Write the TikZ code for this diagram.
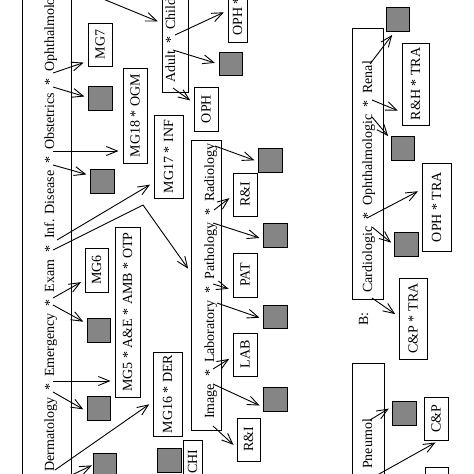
\documentclass[tikz,border=0pt]{standalone}
\usepackage{fontspec}
\usepackage{graphicx}
\setmainfont{Liberation Serif}
\usetikzlibrary{arrows.meta,positioning,calc}

\begin{document}
\begin{tikzpicture}[x=1pt, y=-1pt,
            every node/.style={font=\fontsize{14}{16}\selectfont},
            lbl/.style={draw, line width=1pt, inner sep=0pt, minimum width=24pt, minimum height=43pt},
            sq/.style={draw, line width=1pt, fill=black!48, minimum size=23.5pt, inner sep=0pt},
            grp/.style={draw, line width=1pt, inner sep=0pt},
            cat/.style={rotate=90, anchor=base west, inner sep=0pt},
            arr/.style={draw, line width=0.9pt, shorten >=4pt, -{Straight Barb[length=11pt,width=9pt]}}]
        \useasboundingbox (0,0) rectangle (474,474);
        \clip (0,0) rectangle (474,474);

        % group boxes
        \node[grp, minimum width=49pt, minimum height=494pt] (sympt) at (46.5,237) {};
        \node[grp, minimum width=26pt, minimum height=102pt] (kids) at (175,41) {};
        \node[grp, minimum width=30pt, minimum height=290pt] (image) at (206,285) {};
        \node[grp, minimum width=31pt, minimum height=271pt] (organ) at (367.5,163.5) {};
        \node[grp, minimum width=32pt, minimum height=121pt] (pneu) at (368,423.5) {};

        \node[cat] (symptxt) at (54,472) {Dermatology\enspace*\enspace Emergency\enspace*\enspace Exam\enspace*\enspace Inf. Disease\enspace*\enspace Obstetrics\enspace*\enspace Ophthalmologic};
        \node[cat] (kidtxt) at (175,83) {Adult\enspace*\enspace Child};
        \node[cat] (imgtxt) at (214,419) {Image\enspace*\enspace Laboratory\enspace*\enspace Pathology\enspace*\enspace Radiology};
        \node[cat] (orgtxt) at (372,293) {Cardiologic\enspace*\enspace Ophthalmologic\enspace*\enspace Renal};
        \node[cat] (pneutxt) at (372,469) {Pneumol};
        \node[cat] (blabel) at (368,326) {B:};

        % labels
        \node[lbl] (mgseven) at (100,44.5) {\rotatebox{90}{MG7}};
        \node[lbl, minimum height=95pt] (mgeighteen) at (135,115.5) {\rotatebox{90}{MG18 * OGM}};
        \node[lbl, minimum width=23pt, minimum height=44pt] (mgsix) at (96.5,270) {\rotatebox{90}{MG6}};
        \node[lbl, minimum width=25pt, minimum height=170pt] (mgfive) at (127.5,312) {\rotatebox{90}{MG5 * A\&E * AMB * OTP}};
        \node[lbl, minimum width=29pt, minimum height=83pt] (mgseventeen) at (168.5,156.5) {\rotatebox{90}{MG17 * INF}};
        \node[lbl, minimum width=29pt, minimum height=84pt] (mgsixteen) at (167.5,394) {\rotatebox{90}{MG16 * DER}};
        \node[lbl, minimum width=19pt, minimum height=0pt, inner ysep=7pt, anchor=south] (ophstar) at (237.5,43) {\rotatebox{90}{OPH *}};
        \node[lbl, minimum height=44pt] (oph) at (206,109) {\rotatebox{90}{OPH}};
        \node[lbl] (riA) at (245,194.5) {\rotatebox{90}{R\&I}};
        \node[lbl, minimum height=44pt] (pat) at (245,275) {\rotatebox{90}{PAT}};
        \node[lbl] (lab) at (245,354.5) {\rotatebox{90}{LAB}};
        \node[lbl, minimum width=23pt] (riB) at (248.5,439.5) {\rotatebox{90}{R\&I}};
        \node[lbl, minimum width=19pt, minimum height=0pt, inner ysep=9pt, anchor=north] (chi) at (192.5,440) {\rotatebox{90}{CHI}};
        \node[lbl, minimum width=27pt, minimum height=82pt] (rhtra) at (415.5,84) {\rotatebox{90}{R\&H * TRA}};
        \node[lbl, minimum width=29pt, minimum height=88pt] (ophtra) at (436.5,207) {\rotatebox{90}{OPH * TRA}};
        \node[lbl, minimum width=28pt, minimum height=81pt] (cptra) at (413,318.5) {\rotatebox{90}{C\&P * TRA}};
        \node[lbl] (cp) at (436,418.5) {\rotatebox{90}{C\&P}};
        \node[lbl, minimum width=23pt, minimum height=25pt, anchor=north] (lastbox) at (436.5,467) {};

        % grey squares
        \node[sq] (sqA) at (100.5,98.5) {};
        \node[sq] (sqB) at (102.5,181.5) {};
        \node[sq] (sqC) at (99,330.5) {};
        \node[sq] (sqD) at (99,408.5) {};
        \node[sq] (sqE) at (105,465) {};
        \node[sq] (sqF) at (231,64) {};
        \node[sq] (sqG) at (270.5,160.5) {};
        \node[sq] (sqH) at (275.5,235.5) {};
        \node[sq] (sqI) at (275.5,317) {};
        \node[sq] (sqJ) at (275.5,399.5) {};
        \node[sq] (sqK) at (169.5,460.5) {};
        \node[sq] (sqL) at (398,19.5) {};
        \node[sq] (sqM) at (403,148.5) {};
        \node[sq] (sqN) at (406.5,244.5) {};
        \node[sq] (sqO) at (404.5,413.5) {};

        % arrow tails
        \coordinate (left0) at (57,-20);
        \coordinate (left1) at (53,73);
        \coordinate (left2) at (53,87);
        \coordinate (left3) at (53,151);
        \coordinate (left4) at (53,165);
        \coordinate (left5) at (57,240);
        \coordinate (left6) at (53,250);
        \coordinate (bend) at (143,205);
        \coordinate (left7) at (53,298);
        \coordinate (left8) at (53,305);
        \coordinate (left9) at (53,381);
        \coordinate (left10) at (53,392);
        \coordinate (left11) at (55,470);
        \coordinate (left12) at (55,483);
        \coordinate (kid1) at (175,35);
        \coordinate (kid2) at (173,50);
        \coordinate (kid3) at (173,88);
        \coordinate (img1) at (215,146);
        \coordinate (img2) at (214,210);
        \coordinate (img3) at (213,223);
        \coordinate (img4) at (213,284);
        \coordinate (img5) at (217,303);
        \coordinate (img6) at (213,369);
        \coordinate (img7) at (213,384);
        \coordinate (img8) at (213,426);
        \coordinate (org1) at (370,64);
        \coordinate (org2) at (372,100);
        \coordinate (org3) at (372,117);
        \coordinate (org4) at (367,218);
        \coordinate (org5) at (372,227);
        \coordinate (org6) at (372,298);
        \coordinate (pn1) at (370,420);
        \coordinate (pn2) at (372,478);

        % arrows
        \draw[arr] (left0) -- (kids.west |- 0,23);
        \draw[arr] (left1) -- (mgseven.west |- 0,61.3);
        \draw[arr] (left2) -- (sqA.west |- 0,97.6);
        \draw[arr] (left3) -- (mgeighteen.west |- 0,151);
        \draw[arr] (left4) -- (sqB.west |- 0,175.5);
        \draw[arr] (left5) -- (mgseventeen.west |- 0,182.6);
        \draw[arr] (left6) -- (bend) -- (image.west |- 0,272);
        \draw[arr] (left7) -- (mgsix.west |- 0,280.2);
        \draw[arr] (left8) -- (sqC.west |- 0,323.6);
        \draw[arr] (left9) -- (mgfive.west |- 0,381);
        \draw[arr] (left10) -- (sqD.west |- 0,411.3);
        \draw[arr] (left11) -- (mgsixteen.west |- 0,402);
        \draw[arr, shorten >=1pt] (left12) -- (sqE.west |- 0,465);
        \draw[arr] (kid1) -- (ophstar.west |- 0,10.6);
        \draw[arr] (kid2) -- (sqF.west |- 0,64.1);
        \draw[arr] (kid3) -- (oph.west |- 0,102.8);
        \draw[arr] (img1) -- (sqG.west |- 0,161.7);
        \draw[arr] (img2) -- (riA.west |- 0,195.75);
        \draw[arr] (img3) -- (sqH.west |- 0,239.2);
        \draw[arr] (img4) -- (pat.west |- 0,290);
        \draw[arr] (img5) -- (sqI.west |- 0,319);
        \draw[arr] (img6) -- (lab.west |- 0,356.8);
        \draw[arr] (img7) -- (sqJ.west |- 0,407.2);
        \draw[arr] (img8) -- (riB.west |- 0,447.6);
        \draw[arr] (org1) -- (394.6,0 |- sqL.south);
        \draw[arr] (org2) -- (rhtra.west |- 0,112.2);
        \draw[arr] (org3) -- (sqM.west |- 0,139.2);
        \draw[arr] (org4) -- (ophtra.west |- 0,189.4);
        \draw[arr] (org5) -- (sqN.west |- 0,245.2);
        \draw[arr] (org6) -- (cptra.west |- 0,316.4);
        \draw[arr] (pn1) -- (sqO.west |- 0,406.5);
        \draw[arr] (pn2) -- (439,0 |- cp.south);
\end{tikzpicture}
\end{document}
